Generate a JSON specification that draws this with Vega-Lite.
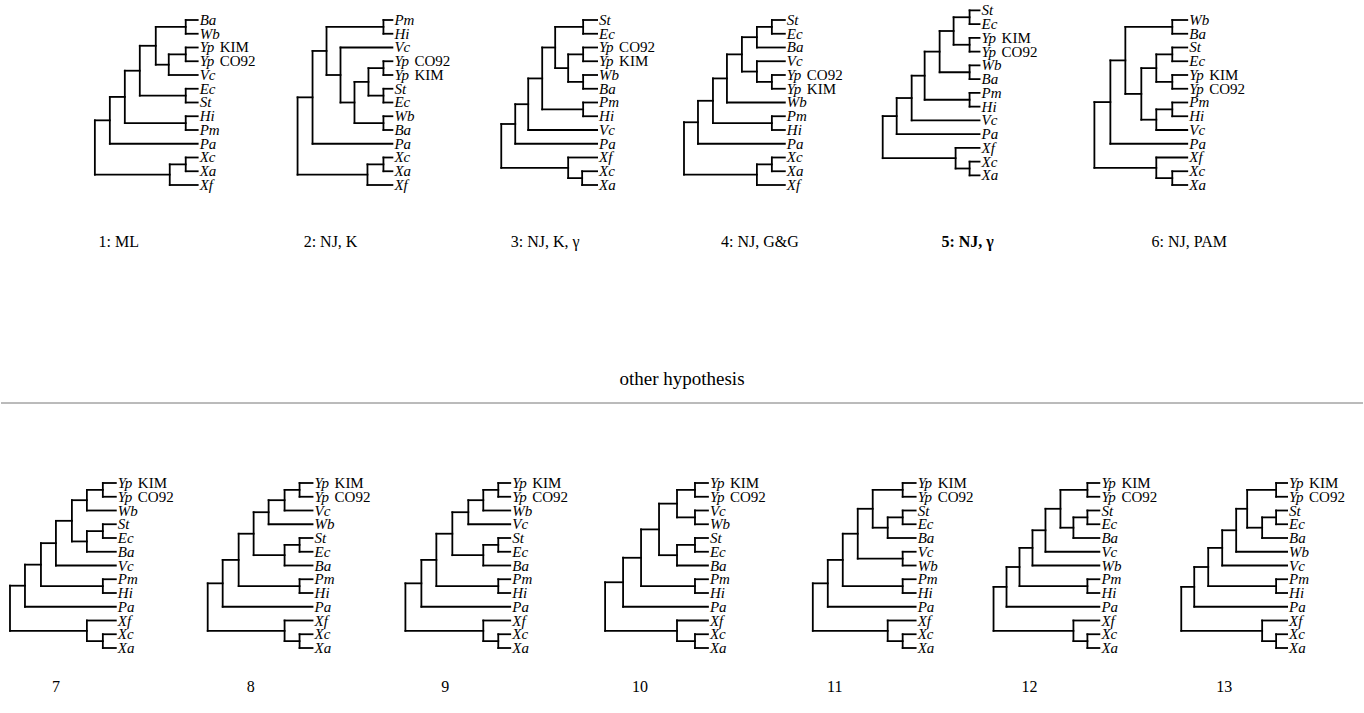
{
"$schema":"https://vega.github.io/schema/vega-lite/v6.json",
"width":1364,"height":713,"autosize":{"type":"fit","contains":"padding"},"padding":0,
"background":"white",
"config":{"view":{"stroke":null}},
"datasets":{
"top":[
{"x":197,"y":0,"p":185,"n":"Ba"},{"x":197,"y":1,"p":185,"n":"Wb"},{"x":197,"y":2,"p":185,"n":"Yp","s":"KIM"},{"x":197,"y":3,"p":185,"n":"Yp","s":"CO92"},{"x":197,"y":4,"p":168,"n":"Vc"},{"x":197,"y":5,"p":185,"n":"Ec"},{"x":197,"y":6,"p":185,"n":"St"},{"x":197,"y":7,"p":185,"n":"Hi"},{"x":197,"y":8,"p":185,"n":"Pm"},{"x":197,"y":9,"p":109,"n":"Pa"},{"x":197,"y":10,"p":185,"n":"Xc"},{"x":197,"y":11,"p":185,"n":"Xa"},{"x":197,"y":12,"p":169,"n":"Xf"},
{"x":185,"y":0.5,"p":155,"a":0,"b":1},{"x":185,"y":2.5,"p":168,"a":2,"b":3},{"x":168,"y":3.25,"p":155,"a":2.5,"b":4},{"x":155,"y":1.875,"p":139,"a":0.5,"b":3.25},{"x":185,"y":5.5,"p":139,"a":5,"b":6},{"x":139,"y":3.688,"p":124,"a":1.875,"b":5.5},{"x":185,"y":7.5,"p":124,"a":7,"b":8},{"x":124,"y":5.594,"p":109,"a":3.688,"b":7.5},{"x":109,"y":7.297,"p":94,"a":5.594,"b":9},{"x":185,"y":10.5,"p":169,"a":10,"b":11},{"x":169,"y":11.25,"p":94,"a":10.5,"b":12},{"x":94,"y":9.273,"a":7.297,"b":11.25},

{"x":392,"y":0,"p":383,"n":"Pm"},{"x":392,"y":1,"p":383,"n":"Hi"},{"x":392,"y":2,"p":340,"n":"Vc"},{"x":392,"y":3,"p":383,"n":"Yp","s":"CO92"},{"x":392,"y":4,"p":383,"n":"Yp","s":"KIM"},{"x":392,"y":5,"p":383,"n":"St"},{"x":392,"y":6,"p":383,"n":"Ec"},{"x":392,"y":7,"p":383,"n":"Wb"},{"x":392,"y":8,"p":383,"n":"Ba"},{"x":392,"y":9,"p":312,"n":"Pa"},{"x":392,"y":10,"p":383,"n":"Xc"},{"x":392,"y":11,"p":383,"n":"Xa"},{"x":392,"y":12,"p":367,"n":"Xf"},
{"x":383,"y":0.5,"p":326,"a":0,"b":1},{"x":383,"y":3.5,"p":368,"a":3,"b":4},{"x":383,"y":5.5,"p":368,"a":5,"b":6},{"x":368,"y":4.5,"p":354,"a":3.5,"b":5.5},{"x":383,"y":7.5,"p":354,"a":7,"b":8},{"x":354,"y":6,"p":340,"a":4.5,"b":7.5},{"x":340,"y":4,"p":326,"a":2,"b":6},{"x":326,"y":2.25,"p":312,"a":0.5,"b":4},{"x":312,"y":5.625,"p":297,"a":2.25,"b":9},{"x":383,"y":10.5,"p":367,"a":10,"b":11},{"x":367,"y":11.25,"p":297,"a":10.5,"b":12},{"x":297,"y":8.438,"a":5.625,"b":11.25},

{"x":597,"y":0,"p":583,"n":"St"},{"x":597,"y":1,"p":583,"n":"Ec"},{"x":597,"y":2,"p":583,"n":"Yp","s":"CO92"},{"x":597,"y":3,"p":583,"n":"Yp","s":"KIM"},{"x":597,"y":4,"p":583,"n":"Wb"},{"x":597,"y":5,"p":583,"n":"Ba"},{"x":597,"y":6,"p":583,"n":"Pm"},{"x":597,"y":7,"p":583,"n":"Hi"},{"x":597,"y":8,"p":528,"n":"Vc"},{"x":597,"y":9,"p":515,"n":"Pa"},{"x":597,"y":10,"p":568,"n":"Xf"},{"x":597,"y":11,"p":582,"n":"Xc"},{"x":597,"y":12,"p":582,"n":"Xa"},
{"x":583,"y":0.5,"p":555,"a":0,"b":1},{"x":583,"y":2.5,"p":568,"a":2,"b":3},{"x":583,"y":4.5,"p":568,"a":4,"b":5},{"x":568,"y":3.5,"p":555,"a":2.5,"b":4.5},{"x":555,"y":2,"p":542,"a":0.5,"b":3.5},{"x":583,"y":6.5,"p":542,"a":6,"b":7},{"x":542,"y":4.25,"p":528,"a":2,"b":6.5},{"x":528,"y":6.125,"p":515,"a":4.25,"b":8},{"x":515,"y":7.563,"p":501,"a":6.125,"b":9},{"x":582,"y":11.5,"p":568,"a":11,"b":12},{"x":568,"y":10.75,"p":501,"a":10,"b":11.5},{"x":501,"y":9.156,"a":7.563,"b":10.75},

{"x":785,"y":0,"p":772,"n":"St"},{"x":785,"y":1,"p":772,"n":"Ec"},{"x":785,"y":2,"p":757,"n":"Ba"},{"x":785,"y":3,"p":757,"n":"Vc"},{"x":785,"y":4,"p":772,"n":"Yp","s":"CO92"},{"x":785,"y":5,"p":772,"n":"Yp","s":"KIM"},{"x":785,"y":6,"p":727,"n":"Wb"},{"x":785,"y":7,"p":772,"n":"Pm"},{"x":785,"y":8,"p":772,"n":"Hi"},{"x":785,"y":9,"p":698,"n":"Pa"},{"x":785,"y":10,"p":772,"n":"Xc"},{"x":785,"y":11,"p":772,"n":"Xa"},{"x":785,"y":12,"p":757,"n":"Xf"},
{"x":772,"y":0.5,"p":757,"a":0,"b":1},{"x":757,"y":1.25,"p":742,"a":0.5,"b":2},{"x":772,"y":4.5,"p":757,"a":4,"b":5},{"x":757,"y":3.75,"p":742,"a":3,"b":4.5},{"x":742,"y":2.5,"p":727,"a":1.25,"b":3.75},{"x":727,"y":4.25,"p":713,"a":2.5,"b":6},{"x":772,"y":7.5,"p":713,"a":7,"b":8},{"x":713,"y":5.875,"p":698,"a":4.25,"b":7.5},{"x":698,"y":7.438,"p":684,"a":5.875,"b":9},{"x":772,"y":10.5,"p":757,"a":10,"b":11},{"x":757,"y":11.25,"p":684,"a":10.5,"b":12},{"x":684,"y":9.344,"a":7.438,"b":11.25},

{"x":980,"y":-0.7,"p":970,"n":"St"},{"x":980,"y":0.3,"p":970,"n":"Ec"},{"x":980,"y":1.3,"p":970,"n":"Yp","s":"KIM"},{"x":980,"y":2.3,"p":970,"n":"Yp","s":"CO92"},{"x":980,"y":3.3,"p":970,"n":"Wb"},{"x":980,"y":4.3,"p":970,"n":"Ba"},{"x":980,"y":5.3,"p":970,"n":"Pm"},{"x":980,"y":6.3,"p":970,"n":"Hi"},{"x":980,"y":7.3,"p":912,"n":"Vc"},{"x":980,"y":8.3,"p":897,"n":"Pa"},{"x":980,"y":9.3,"p":956,"n":"Xf"},{"x":980,"y":10.3,"p":970,"n":"Xc"},{"x":980,"y":11.3,"p":970,"n":"Xa"},
{"x":970,"y":-0.2,"p":954,"a":-0.7,"b":0.3},{"x":970,"y":1.8,"p":954,"a":1.3,"b":2.3},{"x":954,"y":0.8,"p":940,"a":-0.2,"b":1.8},{"x":970,"y":3.8,"p":940,"a":3.3,"b":4.3},{"x":940,"y":2.3,"p":925,"a":0.8,"b":3.8},{"x":970,"y":5.8,"p":925,"a":5.3,"b":6.3},{"x":925,"y":4.05,"p":912,"a":2.3,"b":5.8},{"x":912,"y":5.675,"p":897,"a":4.05,"b":7.3},{"x":897,"y":6.988,"p":883,"a":5.675,"b":8.3},{"x":970,"y":10.8,"p":956,"a":10.3,"b":11.3},{"x":956,"y":10.05,"p":883,"a":9.3,"b":10.8},{"x":883,"y":8.519,"a":6.988,"b":10.05},

{"x":1188,"y":0,"p":1173,"n":"Wb"},{"x":1188,"y":1,"p":1173,"n":"Ba"},{"x":1188,"y":2,"p":1173,"n":"St"},{"x":1188,"y":3,"p":1173,"n":"Ec"},{"x":1188,"y":4,"p":1173,"n":"Yp","s":"KIM"},{"x":1188,"y":5,"p":1173,"n":"Yp","s":"CO92"},{"x":1188,"y":6,"p":1173,"n":"Pm"},{"x":1188,"y":7,"p":1173,"n":"Hi"},{"x":1188,"y":8,"p":1157,"n":"Vc"},{"x":1188,"y":9,"p":1111,"n":"Pa"},{"x":1188,"y":10,"p":1157,"n":"Xf"},{"x":1188,"y":11,"p":1173,"n":"Xc"},{"x":1188,"y":12,"p":1173,"n":"Xa"},
{"x":1173,"y":0.5,"p":1126,"a":0,"b":1},{"x":1173,"y":2.5,"p":1157,"a":2,"b":3},{"x":1173,"y":4.5,"p":1157,"a":4,"b":5},{"x":1157,"y":3.5,"p":1142,"a":2.5,"b":4.5},{"x":1173,"y":6.5,"p":1157,"a":6,"b":7},{"x":1157,"y":7.25,"p":1142,"a":6.5,"b":8},{"x":1142,"y":5.375,"p":1126,"a":3.5,"b":7.25},{"x":1126,"y":2.938,"p":1111,"a":0.5,"b":5.375},{"x":1111,"y":5.969,"p":1095,"a":2.938,"b":9},{"x":1173,"y":11.5,"p":1157,"a":11,"b":12},{"x":1157,"y":10.75,"p":1095,"a":10,"b":11.5},{"x":1095,"y":8.359,"a":5.969,"b":10.75}
],
"bot":[
{"x":115,"y":0,"p":102,"n":"Yp","s":"KIM"},{"x":115,"y":1,"p":102,"n":"Yp","s":"CO92"},{"x":115,"y":2,"p":86,"n":"Wb"},{"x":115,"y":3,"p":102,"n":"St"},{"x":115,"y":4,"p":102,"n":"Ec"},{"x":115,"y":5,"p":86,"n":"Ba"},{"x":115,"y":6,"p":55,"n":"Vc"},{"x":115,"y":7,"p":102,"n":"Pm"},{"x":115,"y":8,"p":102,"n":"Hi"},{"x":115,"y":9,"p":24,"n":"Pa"},{"x":115,"y":10,"p":86,"n":"Xf"},{"x":115,"y":11,"p":102,"n":"Xc"},{"x":115,"y":12,"p":102,"n":"Xa"},
{"x":102,"y":0.5,"p":86,"a":0,"b":1},{"x":86,"y":1.25,"p":71,"a":0.5,"b":2},{"x":102,"y":3.5,"p":86,"a":3,"b":4},{"x":86,"y":4.25,"p":71,"a":3.5,"b":5},{"x":71,"y":2.75,"p":55,"a":1.25,"b":4.25},{"x":55,"y":4.375,"p":40,"a":2.75,"b":6},{"x":102,"y":7.5,"p":40,"a":7,"b":8},{"x":40,"y":5.938,"p":24,"a":4.375,"b":7.5},{"x":24,"y":7.469,"p":9,"a":5.938,"b":9},{"x":102,"y":11.5,"p":86,"a":11,"b":12},{"x":86,"y":10.75,"p":9,"a":10,"b":11.5},{"x":9,"y":9.109,"a":7.469,"b":10.75},

{"x":312,"y":0,"p":299,"n":"Yp","s":"KIM"},{"x":312,"y":1,"p":299,"n":"Yp","s":"CO92"},{"x":312,"y":2,"p":284,"n":"Vc"},{"x":312,"y":3,"p":268,"n":"Wb"},{"x":312,"y":4,"p":299,"n":"St"},{"x":312,"y":5,"p":299,"n":"Ec"},{"x":312,"y":6,"p":284,"n":"Ba"},{"x":312,"y":7,"p":299,"n":"Pm"},{"x":312,"y":8,"p":299,"n":"Hi"},{"x":312,"y":9,"p":222,"n":"Pa"},{"x":312,"y":10,"p":284,"n":"Xf"},{"x":312,"y":11,"p":299,"n":"Xc"},{"x":312,"y":12,"p":299,"n":"Xa"},
{"x":299,"y":0.5,"p":284,"a":0,"b":1},{"x":284,"y":1.25,"p":268,"a":0.5,"b":2},{"x":268,"y":2.125,"p":253,"a":1.25,"b":3},{"x":299,"y":4.5,"p":284,"a":4,"b":5},{"x":284,"y":5.25,"p":253,"a":4.5,"b":6},{"x":253,"y":3.688,"p":238,"a":2.125,"b":5.25},{"x":299,"y":7.5,"p":238,"a":7,"b":8},{"x":238,"y":5.594,"p":222,"a":3.688,"b":7.5},{"x":222,"y":7.297,"p":207,"a":5.594,"b":9},{"x":299,"y":11.5,"p":284,"a":11,"b":12},{"x":284,"y":10.75,"p":207,"a":10,"b":11.5},{"x":207,"y":9.023,"a":7.297,"b":10.75},

{"x":510,"y":0,"p":498,"n":"Yp","s":"KIM"},{"x":510,"y":1,"p":498,"n":"Yp","s":"CO92"},{"x":510,"y":2,"p":483,"n":"Wb"},{"x":510,"y":3,"p":468,"n":"Vc"},{"x":510,"y":4,"p":498,"n":"St"},{"x":510,"y":5,"p":498,"n":"Ec"},{"x":510,"y":6,"p":483,"n":"Ba"},{"x":510,"y":7,"p":498,"n":"Pm"},{"x":510,"y":8,"p":498,"n":"Hi"},{"x":510,"y":9,"p":421,"n":"Pa"},{"x":510,"y":10,"p":483,"n":"Xf"},{"x":510,"y":11,"p":498,"n":"Xc"},{"x":510,"y":12,"p":498,"n":"Xa"},
{"x":498,"y":0.5,"p":483,"a":0,"b":1},{"x":483,"y":1.25,"p":468,"a":0.5,"b":2},{"x":468,"y":2.125,"p":452,"a":1.25,"b":3},{"x":498,"y":4.5,"p":483,"a":4,"b":5},{"x":483,"y":5.25,"p":452,"a":4.5,"b":6},{"x":452,"y":3.688,"p":436,"a":2.125,"b":5.25},{"x":498,"y":7.5,"p":436,"a":7,"b":8},{"x":436,"y":5.594,"p":421,"a":3.688,"b":7.5},{"x":421,"y":7.297,"p":405,"a":5.594,"b":9},{"x":498,"y":11.5,"p":483,"a":11,"b":12},{"x":483,"y":10.75,"p":405,"a":10,"b":11.5},{"x":405,"y":9.023,"a":7.297,"b":10.75},

{"x":708,"y":0,"p":695,"n":"Yp","s":"KIM"},{"x":708,"y":1,"p":695,"n":"Yp","s":"CO92"},{"x":708,"y":2,"p":695,"n":"Vc"},{"x":708,"y":3,"p":695,"n":"Wb"},{"x":708,"y":4,"p":695,"n":"St"},{"x":708,"y":5,"p":695,"n":"Ec"},{"x":708,"y":6,"p":677,"n":"Ba"},{"x":708,"y":7,"p":695,"n":"Pm"},{"x":708,"y":8,"p":695,"n":"Hi"},{"x":708,"y":9,"p":623,"n":"Pa"},{"x":708,"y":10,"p":677,"n":"Xf"},{"x":708,"y":11,"p":695,"n":"Xc"},{"x":708,"y":12,"p":695,"n":"Xa"},
{"x":695,"y":0.5,"p":677,"a":0,"b":1},{"x":695,"y":2.5,"p":677,"a":2,"b":3},{"x":677,"y":1.5,"p":659,"a":0.5,"b":2.5},{"x":695,"y":4.5,"p":677,"a":4,"b":5},{"x":677,"y":5.25,"p":659,"a":4.5,"b":6},{"x":659,"y":3.375,"p":641,"a":1.5,"b":5.25},{"x":695,"y":7.5,"p":641,"a":7,"b":8},{"x":641,"y":5.438,"p":623,"a":3.375,"b":7.5},{"x":623,"y":7.219,"p":605,"a":5.438,"b":9},{"x":695,"y":11.5,"p":677,"a":11,"b":12},{"x":677,"y":10.75,"p":605,"a":10,"b":11.5},{"x":605,"y":8.984,"a":7.219,"b":10.75},

{"x":916,"y":0,"p":903,"n":"Yp","s":"KIM"},{"x":916,"y":1,"p":903,"n":"Yp","s":"CO92"},{"x":916,"y":2,"p":903,"n":"St"},{"x":916,"y":3,"p":903,"n":"Ec"},{"x":916,"y":4,"p":888,"n":"Ba"},{"x":916,"y":5,"p":903,"n":"Vc"},{"x":916,"y":6,"p":903,"n":"Wb"},{"x":916,"y":7,"p":903,"n":"Pm"},{"x":916,"y":8,"p":903,"n":"Hi"},{"x":916,"y":9,"p":828,"n":"Pa"},{"x":916,"y":10,"p":888,"n":"Xf"},{"x":916,"y":11,"p":903,"n":"Xc"},{"x":916,"y":12,"p":903,"n":"Xa"},
{"x":903,"y":0.5,"p":873,"a":0,"b":1},{"x":903,"y":2.5,"p":888,"a":2,"b":3},{"x":888,"y":3.25,"p":873,"a":2.5,"b":4},{"x":873,"y":1.875,"p":858,"a":0.5,"b":3.25},{"x":903,"y":5.5,"p":858,"a":5,"b":6},{"x":858,"y":3.688,"p":843,"a":1.875,"b":5.5},{"x":903,"y":7.5,"p":843,"a":7,"b":8},{"x":843,"y":5.594,"p":828,"a":3.688,"b":7.5},{"x":828,"y":7.297,"p":813,"a":5.594,"b":9},{"x":903,"y":11.5,"p":888,"a":11,"b":12},{"x":888,"y":10.75,"p":813,"a":10,"b":11.5},{"x":813,"y":9.023,"a":7.297,"b":10.75},

{"x":1100,"y":0,"p":1088,"n":"Yp","s":"KIM"},{"x":1100,"y":1,"p":1088,"n":"Yp","s":"CO92"},{"x":1100,"y":2,"p":1088,"n":"St"},{"x":1100,"y":3,"p":1088,"n":"Ec"},{"x":1100,"y":4,"p":1074,"n":"Ba"},{"x":1100,"y":5,"p":1046,"n":"Vc"},{"x":1100,"y":6,"p":1033,"n":"Wb"},{"x":1100,"y":7,"p":1088,"n":"Pm"},{"x":1100,"y":8,"p":1088,"n":"Hi"},{"x":1100,"y":9,"p":1007,"n":"Pa"},{"x":1100,"y":10,"p":1074,"n":"Xf"},{"x":1100,"y":11,"p":1088,"n":"Xc"},{"x":1100,"y":12,"p":1088,"n":"Xa"},
{"x":1088,"y":0.5,"p":1061,"a":0,"b":1},{"x":1088,"y":2.5,"p":1074,"a":2,"b":3},{"x":1074,"y":3.25,"p":1061,"a":2.5,"b":4},{"x":1061,"y":1.875,"p":1046,"a":0.5,"b":3.25},{"x":1046,"y":3.438,"p":1033,"a":1.875,"b":5},{"x":1033,"y":4.719,"p":1020,"a":3.438,"b":6},{"x":1088,"y":7.5,"p":1020,"a":7,"b":8},{"x":1020,"y":6.109,"p":1007,"a":4.719,"b":7.5},{"x":1007,"y":7.555,"p":994,"a":6.109,"b":9},{"x":1088,"y":11.5,"p":1074,"a":11,"b":12},{"x":1074,"y":10.75,"p":994,"a":10,"b":11.5},{"x":994,"y":9.152,"a":7.555,"b":10.75},

{"x":1288,"y":0,"p":1277,"n":"Yp","s":"KIM"},{"x":1288,"y":1,"p":1277,"n":"Yp","s":"CO92"},{"x":1288,"y":2,"p":1277,"n":"St"},{"x":1288,"y":3,"p":1277,"n":"Ec"},{"x":1288,"y":4,"p":1263,"n":"Ba"},{"x":1288,"y":5,"p":1237,"n":"Wb"},{"x":1288,"y":6,"p":1223,"n":"Vc"},{"x":1288,"y":7,"p":1277,"n":"Pm"},{"x":1288,"y":8,"p":1277,"n":"Hi"},{"x":1288,"y":9,"p":1195,"n":"Pa"},{"x":1288,"y":10,"p":1263,"n":"Xf"},{"x":1288,"y":11,"p":1277,"n":"Xc"},{"x":1288,"y":12,"p":1277,"n":"Xa"},
{"x":1277,"y":0.5,"p":1248,"a":0,"b":1},{"x":1277,"y":2.5,"p":1263,"a":2,"b":3},{"x":1263,"y":3.25,"p":1248,"a":2.5,"b":4},{"x":1248,"y":1.875,"p":1237,"a":0.5,"b":3.25},{"x":1237,"y":3.438,"p":1223,"a":1.875,"b":5},{"x":1223,"y":4.719,"p":1209,"a":3.438,"b":6},{"x":1277,"y":7.5,"p":1209,"a":7,"b":8},{"x":1209,"y":6.109,"p":1195,"a":4.719,"b":7.5},{"x":1195,"y":7.555,"p":1182,"a":6.109,"b":9},{"x":1277,"y":11.5,"p":1263,"a":11,"b":12},{"x":1263,"y":10.75,"p":1182,"a":10,"b":11.5},{"x":1182,"y":9.152,"a":7.555,"b":10.75}
],
"ann":[
{"x":118,"y":242,"t":"1: ML","w":"n"},{"x":330,"y":242,"t":"2: NJ, K","w":"n"},{"x":545,"y":242,"t":"3: NJ, K, γ","w":"n"},{"x":760,"y":242,"t":"4: NJ, G&G","w":"n"},{"x":968,"y":242,"t":"5: NJ, γ","w":"b"},{"x":1190,"y":242,"t":"6: NJ, PAM","w":"n"},
{"x":682,"y":379,"t":"other hypothesis","w":"h"},
{"x":55,"y":687,"t":"7","w":"n"},{"x":250,"y":687,"t":"8","w":"n"},{"x":445,"y":687,"t":"9","w":"n"},{"x":640,"y":687,"t":"10","w":"n"},{"x":835,"y":687,"t":"11","w":"n"},{"x":1030,"y":687,"t":"12","w":"n"},{"x":1225,"y":687,"t":"13","w":"n"}
],
"sep":[{"x":0,"x2":1364,"y":403}]
},
"layer":[
{"data":{"name":"top"},"layer":[
 {"transform":[{"filter":"isValid(datum.p)"}],"mark":{"type":"rule","color":"#000","strokeWidth":1.8,"strokeCap":"square"},
  "encoding":{"x":{"field":"p","type":"quantitative","scale":{"domain":[0,1364],"nice":false,"zero":false},"axis":null},"x2":{"field":"x"},
   "y":{"field":"y","type":"quantitative","scale":{"domain":[-1.4545,50.4],"reverse":true,"nice":false,"zero":false},"axis":null}}},
 {"transform":[{"filter":"isValid(datum.a)"}],"mark":{"type":"rule","color":"#000","strokeWidth":1.8,"strokeCap":"square"},
  "encoding":{"x":{"field":"x","type":"quantitative","scale":{"domain":[0,1364],"nice":false,"zero":false},"axis":null},
   "y":{"field":"a","type":"quantitative","scale":{"domain":[-1.4545,50.4],"reverse":true,"nice":false,"zero":false},"axis":null},"y2":{"field":"b"}}},
 {"transform":[{"filter":"isValid(datum.n)"}],"mark":{"type":"text","align":"left","baseline":"middle","dx":2,"font":"Liberation Serif","fontSize":15,"fontStyle":"italic","color":"#000"},
  "encoding":{"x":{"field":"x","type":"quantitative","scale":{"domain":[0,1364],"nice":false,"zero":false},"axis":null},
   "y":{"field":"y","type":"quantitative","scale":{"domain":[-1.4545,50.4],"reverse":true,"nice":false,"zero":false},"axis":null},"text":{"field":"n"}}},
 {"transform":[{"filter":"isValid(datum.s)"}],"mark":{"type":"text","align":"left","baseline":"middle","dx":22,"font":"Liberation Serif","fontSize":15,"color":"#000"},
  "encoding":{"x":{"field":"x","type":"quantitative","scale":{"domain":[0,1364],"nice":false,"zero":false},"axis":null},
   "y":{"field":"y","type":"quantitative","scale":{"domain":[-1.4545,50.4],"reverse":true,"nice":false,"zero":false},"axis":null},"text":{"field":"s"}}}
]},
{"data":{"name":"bot"},"layer":[
 {"transform":[{"filter":"isValid(datum.p)"}],"mark":{"type":"rule","color":"#000","strokeWidth":1.8,"strokeCap":"square"},
  "encoding":{"x":{"field":"p","type":"quantitative","scale":{"domain":[0,1364],"nice":false,"zero":false},"axis":null},"x2":{"field":"x"},
   "y":{"field":"y","type":"quantitative","scale":{"domain":[-35.127,16.727],"reverse":true,"nice":false,"zero":false},"axis":null}}},
 {"transform":[{"filter":"isValid(datum.a)"}],"mark":{"type":"rule","color":"#000","strokeWidth":1.8,"strokeCap":"square"},
  "encoding":{"x":{"field":"x","type":"quantitative","scale":{"domain":[0,1364],"nice":false,"zero":false},"axis":null},
   "y":{"field":"a","type":"quantitative","scale":{"domain":[-35.127,16.727],"reverse":true,"nice":false,"zero":false},"axis":null},"y2":{"field":"b"}}},
 {"transform":[{"filter":"isValid(datum.n)"}],"mark":{"type":"text","align":"left","baseline":"middle","dx":2,"font":"Liberation Serif","fontSize":15,"fontStyle":"italic","color":"#000"},
  "encoding":{"x":{"field":"x","type":"quantitative","scale":{"domain":[0,1364],"nice":false,"zero":false},"axis":null},
   "y":{"field":"y","type":"quantitative","scale":{"domain":[-35.127,16.727],"reverse":true,"nice":false,"zero":false},"axis":null},"text":{"field":"n"}}},
 {"transform":[{"filter":"isValid(datum.s)"}],"mark":{"type":"text","align":"left","baseline":"middle","dx":22,"font":"Liberation Serif","fontSize":15,"color":"#000"},
  "encoding":{"x":{"field":"x","type":"quantitative","scale":{"domain":[0,1364],"nice":false,"zero":false},"axis":null},
   "y":{"field":"y","type":"quantitative","scale":{"domain":[-35.127,16.727],"reverse":true,"nice":false,"zero":false},"axis":null},"text":{"field":"s"}}}
]},
{"layer":[
 {"data":{"name":"ann"},"transform":[{"filter":"datum.w == 'n'"}],"mark":{"type":"text","align":"center","baseline":"middle","font":"Liberation Serif","fontSize":16,"color":"#000"},
  "encoding":{"x":{"field":"x","type":"quantitative","scale":{"domain":[0,1364],"nice":false,"zero":false},"axis":null},
   "y":{"field":"y","type":"quantitative","scale":{"domain":[0,713],"reverse":true,"nice":false,"zero":false},"axis":null},"text":{"field":"t"}}},
 {"data":{"name":"ann"},"transform":[{"filter":"datum.w == 'b'"}],"mark":{"type":"text","align":"center","baseline":"middle","font":"Liberation Serif","fontSize":16,"fontWeight":"bold","color":"#000"},
  "encoding":{"x":{"field":"x","type":"quantitative","scale":{"domain":[0,1364],"nice":false,"zero":false},"axis":null},
   "y":{"field":"y","type":"quantitative","scale":{"domain":[0,713],"reverse":true,"nice":false,"zero":false},"axis":null},"text":{"field":"t"}}},
 {"data":{"name":"ann"},"transform":[{"filter":"datum.w == 'h'"}],"mark":{"type":"text","align":"center","baseline":"middle","font":"Liberation Serif","fontSize":19,"color":"#000"},
  "encoding":{"x":{"field":"x","type":"quantitative","scale":{"domain":[0,1364],"nice":false,"zero":false},"axis":null},
   "y":{"field":"y","type":"quantitative","scale":{"domain":[0,713],"reverse":true,"nice":false,"zero":false},"axis":null},"text":{"field":"t"}}},
 {"data":{"name":"sep"},"mark":{"type":"rule","color":"#777","strokeWidth":1},
  "encoding":{"x":{"field":"x","type":"quantitative","scale":{"domain":[0,1364],"nice":false,"zero":false},"axis":null},"x2":{"field":"x2"},
   "y":{"field":"y","type":"quantitative","scale":{"domain":[0,713],"reverse":true,"nice":false,"zero":false},"axis":null}}}
]}
],
"resolve":{"scale":{"y":"independent"}}
}
